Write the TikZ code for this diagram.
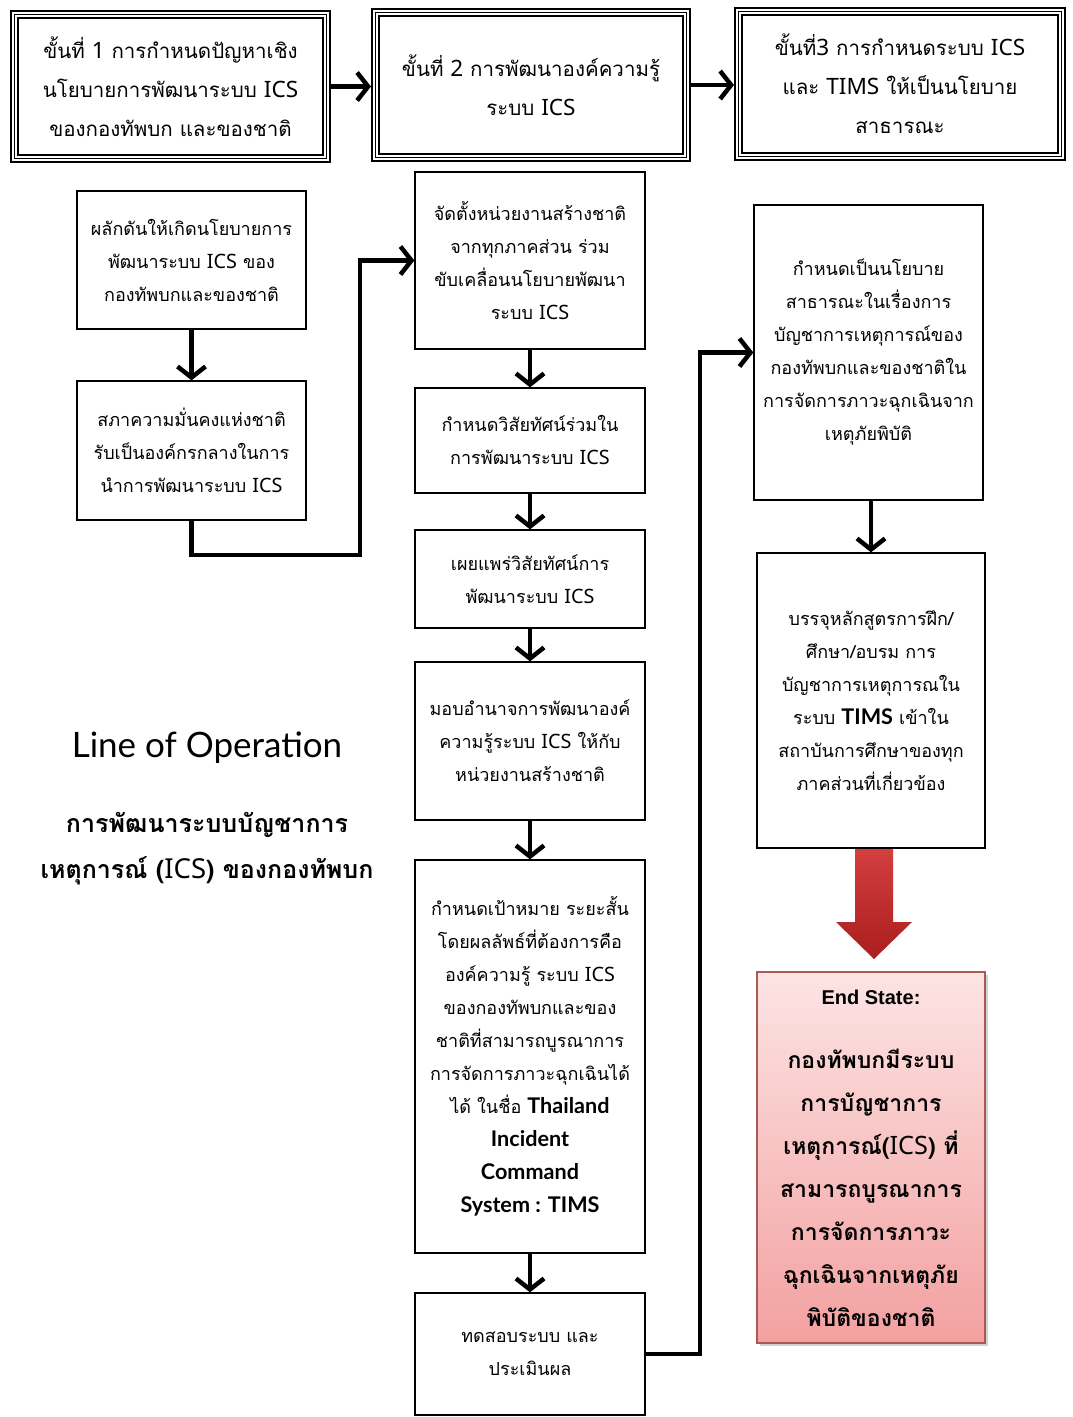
\documentclass[tikz,border=0pt]{standalone}
\usepackage{fontspec}
\setmainfont[Script=Thai]{Loma}
\newfontfamily\thai[Script=Thai]{Loma}
\newfontfamily\latin[Scale=1.1]{Noto Sans}
\newfontfamily\latinbig[Scale=1.2]{Lato}
\newfontfamily\lato{Lato}
\newfontfamily\arialb{Liberation Sans}
\usetikzlibrary{arrows.meta,shadows,calc}
\newcommand\lt[1]{{\latin #1}}
\newcommand\lb[1]{{\latinbig\bfseries #1}}
\definecolor{esborder}{RGB}{170,90,85}
\definecolor{estop}{RGB}{253,228,228}
\definecolor{esbot}{RGB}{243,160,160}
\definecolor{redtop}{RGB}{212,62,62}
\definecolor{redbot}{RGB}{170,30,30}
\begin{document}
\begin{tikzpicture}[x=1pt,y=-1pt,
  box/.style={draw, line width=1.3pt, fill=white, align=center, inner sep=0pt,
    font=\thai\fontsize{18}{33}\selectfont},
  headbox/.style={draw, line width=0.8pt, align=center, inner sep=0pt, outer sep=4.7pt,
    preaction={draw, line width=2.2pt, double=white, double distance=5pt},
    font=\thai\fontsize{20.5}{39}\selectfont},
  arr/.style={line width=4.5pt, -{Straight Barb[length=11pt,width=28pt]}},
]
\useasboundingbox (0,0) rectangle (1072,1417);
\fill[white] (0,0) rectangle (1072,1417);

% headers
\node[headbox, minimum width=311.6pt, minimum height=143.6pt] (h1) at (170.5,86.5)
  {ขั้นที่ \lt{1} การกำหนดปัญหาเชิง\\นโยบายการพัฒนาระบบ \lt{ICS}\\ของกองทัพบก และของชาติ};
\node[headbox, minimum width=310.6pt, minimum height=144.6pt] (h2) at (531,85)
  {ขั้นที่ \lt{2} การพัฒนาองค์ความรู้\\ระบบ \lt{ICS}};
\node[headbox, minimum width=322.6pt, minimum height=144.6pt] (h3) at (900,84)
  {ขั้นที่\lt{3} การกำหนดระบบ \lt{ICS}\\และ \lt{TIMS} ให้เป็นนโยบาย\\สาธารณะ};
\draw[arr] (h1.east) -- (h1.east -| h2.west);
\draw[arr] (h2.east) -- (h2.east -| h3.west);

% left column
\node[box, minimum width=229pt, minimum height=138pt] (l1) at (191.5,260)
  {ผลักดันให้เกิดนโยบายการ\\พัฒนาระบบ \lt{ICS} ของ\\กองทัพบกและของชาติ};
\node[box, minimum width=229pt, minimum height=139pt] (l2) at (191.5,450.5)
  {สภาความมั่นคงแห่งชาติ\\รับเป็นองค์กรกลางในการ\\นำการพัฒนาระบบ \lt{ICS}};

% middle column
\node[box, minimum width=230pt, minimum height=177pt] (m1) at (530,260.5)
  {จัดตั้งหน่วยงานสร้างชาติ\\จากทุกภาคส่วน ร่วม\\ขับเคลื่อนนโยบายพัฒนา\\ระบบ \lt{ICS}};
\node[box, minimum width=230pt, minimum height=105pt] (m2) at (530,440.5)
  {กำหนดวิสัยทัศน์ร่วมใน\\การพัฒนาระบบ \lt{ICS}};
\node[box, minimum width=230pt, minimum height=98pt] (m3) at (530,579)
  {เผยแพร่วิสัยทัศน์การ\\พัฒนาระบบ \lt{ICS}};
\node[box, minimum width=230pt, minimum height=158pt] (m4) at (530,741)
  {มอบอำนาจการพัฒนาองค์\\ความรู้ระบบ \lt{ICS} ให้กับ\\หน่วยงานสร้างชาติ};
\node[box, minimum width=230pt, minimum height=393pt] (m5) at (530,1056.5)
  {กำหนดเป้าหมาย ระยะสั้น\\โดยผลลัพธ์ที่ต้องการคือ\\องค์ความรู้ ระบบ \lt{ICS}\\ของกองทัพบกและของ\\ชาติที่สามารถบูรณาการ\\การจัดการภาวะฉุกเฉินได้\\ได้ ในชื่อ \lb{Thailand}\\\lb{Incident}\\\lb{Command}\\\lb{System : TIMS}};
\node[box, minimum width=230pt, minimum height=122pt] (m6) at (530,1354)
  {ทดสอบระบบ และ\\ประเมินผล};

% right column
\node[box, minimum width=229pt, minimum height=295pt] (r1) at (868.5,352.5)
  {กำหนดเป็นนโยบาย\\สาธารณะในเรื่องการ\\บัญชาการเหตุการณ์ของ\\กองทัพบกและของชาติใน\\การจัดการภาวะฉุกเฉินจาก\\เหตุภัยพิบัติ};
\node[box, minimum width=228pt, minimum height=295pt] (r2) at (871,700.5)
  {บรรจุหลักสูตรการฝึก/\\ศึกษา/อบรม การ\\บัญชาการเหตุการณใน\\ระบบ \lb{TIMS} เข้าใน\\สถาบันการศึกษาของทุก\\ภาคส่วนที่เกี่ยวข้อง};

% end state
\node[draw=esborder, line width=1.2pt, top color=estop, bottom color=esbot,
  minimum width=228pt, minimum height=371pt, inner sep=0pt,
  drop shadow={opacity=0.35, shadow xshift=3pt, shadow yshift=-3pt}] (es) at (871,1157.5) {};
\node[font=\arialb\bfseries\fontsize{20}{24}\selectfont, inner sep=0pt] (est) at (871,997) {End State:};
\node[font=\thai\bfseries\fontsize{23}{43}\selectfont, align=center, inner sep=0pt] (esx) at (871,1187.5)
  {กองทัพบกมีระบบ\\การบัญชาการ\\เหตุการณ์(\lt{ICS}) ที่\\สามารถบูรณาการ\\การจัดการภาวะ\\ฉุกเฉินจากเหตุภัย\\พิบัติของชาติ};

% big red arrow
\shade[top color=redtop, bottom color=redbot]
  (855,849) -- (893,849) -- (893,922) -- (912,922) -- (874,959) -- (836,922) -- (855,922) -- cycle;

% left labels
\node[font=\lato\fontsize{35}{40}\selectfont, inner sep=0pt] (lop) at (207,748) {Line of Operation};
\node[font=\thai\bfseries\fontsize{25}{46}\selectfont, align=center, inner sep=0pt] (lopt) at (207,849)
  {การพัฒนาระบบบัญชาการ\\เหตุการณ์ (\lt{ICS}) ของกองทัพบก};

% connectors
\coordinate (c1) at (360,555);
\coordinate (c2) at (700,1354);
\draw[arr] (l1) -- (l2);
\draw[arr] (l2.south) |- (c1) |- (m1.west);
\draw[arr] (m1) -- (m2);
\draw[arr] (m2) -- (m3);
\draw[arr] (m3) -- (m4);
\draw[arr] (m4) -- (m5);
\draw[arr] (m5) -- (m6);
\draw[arr] (m6.east) -- (c2) |- (r1.west);
\draw[arr] (r1.south -| r2.north) -- (r2.north);
\end{tikzpicture}
\end{document}
